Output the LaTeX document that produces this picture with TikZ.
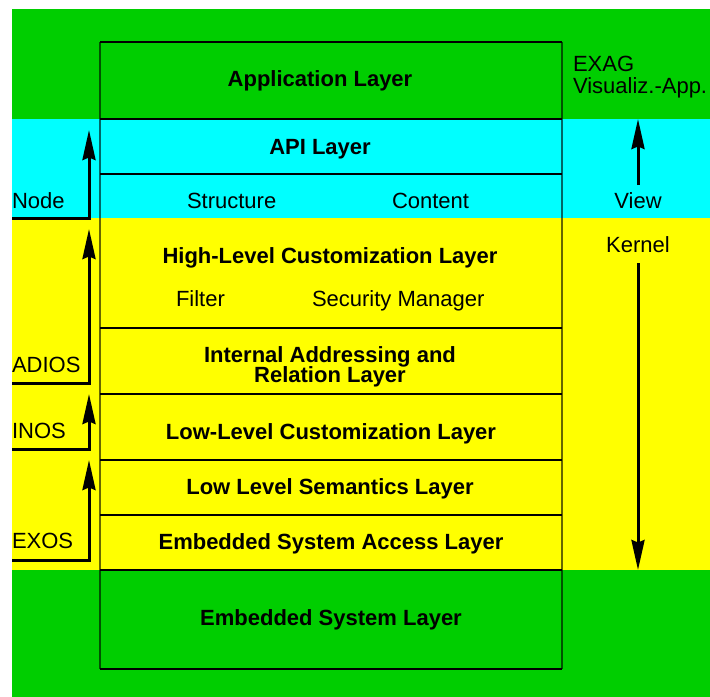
\documentclass[tikz,border=0pt]{standalone}
\usepackage{fontspec}
\setmainfont{Liberation Sans}
\usetikzlibrary{arrows.meta}
\definecolor{bandgreen}{RGB}{0,206,0}
\definecolor{bandcyan}{RGB}{0,255,255}
\definecolor{bandyellow}{RGB}{255,255,0}
\tikzset{
  txt/.style={inner sep=0pt, outer sep=0pt, font=\fontsize{22bp}{22bp}\selectfont},
  ctxt/.style={txt, anchor=base},
  ltxt/.style={txt, anchor=base west},
  btxt/.style={ctxt, font=\fontsize{22bp}{22bp}\selectfont\bfseries},
  flow/.style={line width=3bp, line join=miter,
    -{Stealth[length=30bp, width=13bp, inset=2.5bp]}},
  rule/.style={line width=1.2bp, black},
  side/.style={line width=1.6bp, black, opacity=0.6}
}
\begin{document}
\begin{tikzpicture}[x=1bp, y=-1bp]
  \useasboundingbox (0,0) rectangle (710,697);
  % colour bands
  \fill[bandgreen]  (12,9)   rectangle (710,119);
  \fill[bandcyan]   (12,119) rectangle (710,218);
  \fill[bandyellow] (12,218) rectangle (710,570);
  \fill[bandgreen]  (12,570) rectangle (710,697);

  % layer stack outline
  \draw[rule] (100,42) -- (562,42);
  \draw[rule] (100,119) -- (562,119);
  \draw[rule] (100,174) -- (562,174);
  \draw[rule] (100,328) -- (562,328);
  \draw[rule] (100,394) -- (562,394);
  \draw[rule] (100,460) -- (562,460);
  \draw[rule] (100,515) -- (562,515);
  \draw[rule] (100,570) -- (562,570);
  \draw[rule] (100,669) -- (562,669);
  \draw[side] (100,42) -- (100,669);
  \draw[side] (562,42) -- (562,669);

  % layer captions
  \node[btxt] (app)  at (320,87)  {Application Layer};
  \node[btxt] (api)  at (320,154) {API Layer};
  \node[ltxt] (struct) at (187,208) {Structure};
  \node[ltxt] (content) at (392,208) {Content};
  \node[btxt] (hlc)  at (330,263) {High-Level Customization Layer};
  \node[ltxt] (filter) at (176,306) {Filter};
  \node[ltxt] (secmgr) at (312,306) {Security Manager};
  \node[btxt] (addrA) at (330,362) {Internal Addressing and};
  \node[btxt] (addrB) at (330,382) {Relation Layer};
  \node[btxt] (llc)  at (331,439) {Low-Level Customization Layer};
  \node[btxt] (lls)  at (330,494) {Low Level Semantics Layer};
  \node[btxt] (esa)  at (331,549) {Embedded System Access Layer};
  \node[btxt] (esl)  at (331,625) {Embedded System Layer};

  % left side labels
  \node[ltxt] (lnode)  at (12,208) {Node};
  \node[ltxt] (ladios) at (12,372) {ADIOS};
  \node[ltxt] (linos)  at (12,438) {INOS};
  \node[ltxt] (lexos)  at (12,548) {EXOS};

  % right side labels
  \node[ltxt] (exag) at (573,72) {EXAG};
  \node[ltxt] (vapp) at (573,94) {Visualiz.-App.};
  \node[ctxt] (view) at (638,208) {View};
  \node[ctxt] (kern) at (638,252) {Kernel};

  % left flow arrows
  \coordinate (n0) at (12,218);  \coordinate (n1) at (89,218);  \coordinate (n2) at (89,130);
  \coordinate (a0) at (12,383);  \coordinate (a1) at (89,383);  \coordinate (a2) at (89,229);
  \coordinate (i0) at (12,449);  \coordinate (i1) at (89,449);  \coordinate (i2) at (89,394);
  \coordinate (e0) at (12,560);  \coordinate (e1) at (89,560);  \coordinate (e2) at (89,460);
  \draw[flow] (n0) -- (n1) -- (n2);
  \draw[flow] (a0) -- (a1) -- (a2);
  \draw[flow] (i0) -- (i1) -- (i2);
  \draw[flow] (e0) -- (e1) -- (e2);

  % right flow arrows
  \coordinate (v0) at (638,185); \coordinate (v1) at (638,119);
  \coordinate (k0) at (638,263); \coordinate (k1) at (638,570);
  \draw[flow] (v0) -- (v1);
  \draw[flow] (k0) -- (k1);
\end{tikzpicture}
\end{document}
